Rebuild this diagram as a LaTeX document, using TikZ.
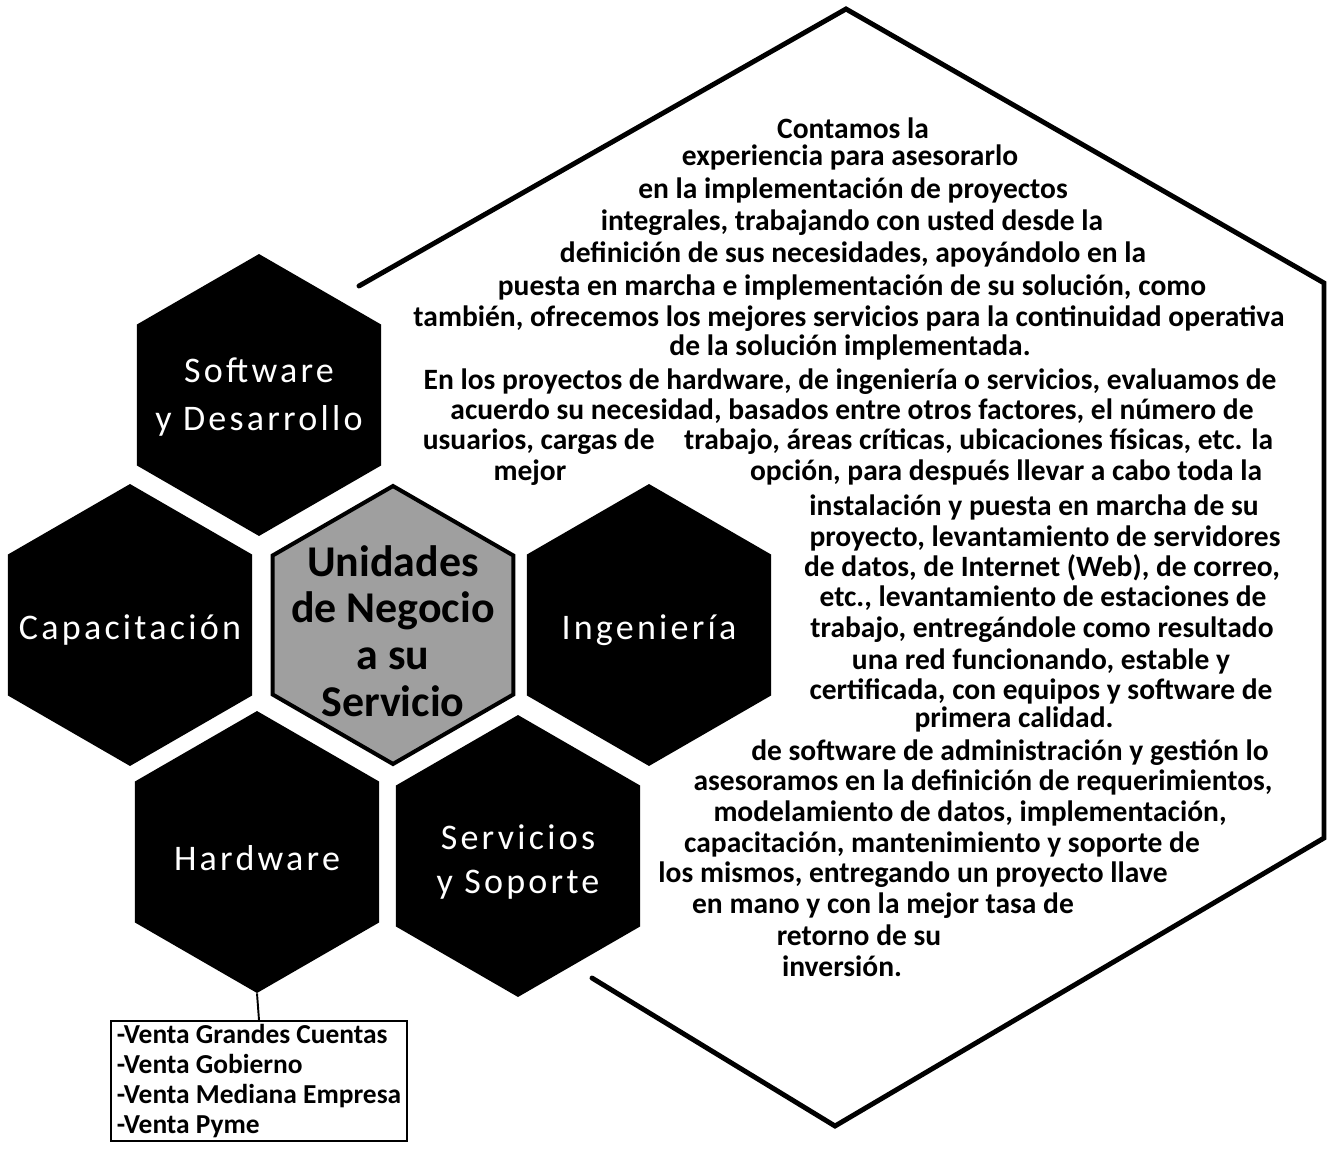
\documentclass[tikz,border=0pt]{standalone}
\usepackage{fontspec}
\setmainfont{Carlito}
\usetikzlibrary{shapes.geometric}
\newcommand{\hexfont}{\fontsize{20.5}{27}\selectfont\addfontfeature{LetterSpace=9}}
\newcommand{\servfont}{\fontsize{20.5}{25}\selectfont\addfontfeature{LetterSpace=9}}
\newcommand{\corefont}{\fontsize{25}{26.5}\selectfont\bfseries}
\newcommand{\bodyfont}{\fontsize{16.8}{17}\selectfont\bfseries}
\newcommand{\listfont}{\fontsize{15.6}{17}\selectfont\bfseries}
\tikzset{
  hexa/.style={regular polygon, regular polygon sides=6, shape border rotate=30, minimum size=5.64cm, inner sep=0pt, fill=black},
  core/.style={hexa, fill=gray!75, draw=black, line width=2.3pt, minimum size=5.56cm},
  hexlabel/.style={text=white, align=center, inner sep=0pt, font=\hexfont},
  linea/.style={anchor=base, inner sep=0pt, font=\bodyfont},
  lista/.style={draw, line width=1.1pt, align=left, inner sep=2pt, minimum width=5.92cm, font=\listfont},
  marco/.style={draw, line width=2.8pt, line join=miter, line cap=round}
  }

\begin{document}
\begin{tikzpicture}[x=0.02cm, y=-0.02cm]
	\useasboundingbox (0,0) rectangle (1327,1151);
	% Frame
	\draw [marco] (359,286) -- (846,9) -- (1324,283) -- (1324,838) -- (835,1126) -- (592,978);

	% Nodes
	\node[core] (core) at (393,625) {};
	\node[hexa] (soft) at (259,395) {};
	\node[hexa] (capa) at (130,625) {};
	\node[hexa] (inge) at (649,625) {};
	\node[hexa] (hard) at (257,852) {};
	\node[hexa] (serv) at (518,856) {};
	\node[font=\corefont, align=center, inner sep=0pt] (core-t) at (393,631) {Unidades\\de Negocio\\a su\\Servicio};
	\node[hexlabel] (soft-t) at (259,397) {Software\\y Desarrollo};
	\node[hexlabel] (capa-t) at (130,630) {Capacitación};
	\node[hexlabel] (inge-t) at (649,630) {Ingeniería};
	\node[hexlabel] (hard-t) at (257,858) {Hardware};
	\node[hexlabel, font=\servfont] (serv-t) at (518,862) {Servicios\\y Soporte};
	\node[lista, anchor=north] (venta) at (259,1020) {-Venta Grandes Cuentas\\-Venta Gobierno\\-Venta Mediana Empresa\\-Venta Pyme};

	% Text
	\foreach \x/\y/\t [count=\i] in {
	  853/139/{Contamos la},
	  850/166/{experiencia para asesorarlo},
	  853/199/{en la implementación de proyectos},
	  852/231/{integrales, trabajando con usted desde la},
	  853/263/{definición de sus necesidades, apoyándolo en la},
	  852/296/{puesta en marcha e implementación de su solución, como},
	  849/327/{también, ofrecemos los mejores servicios para la continuidad operativa},
	  850/356/{de la solución implementada.},
	  850/390/{En los proyectos de hardware, de ingeniería o servicios, evaluamos de},
	  852/420/{acuerdo su necesidad, basados entre otros factores, el número de},
	  848/450/{usuarios, cargas de\quad trabajo, áreas críticas, ubicaciones físicas, etc. la},
	  530/480/{mejor},
	  1006/480/{opción, para después llevar a cabo toda la},
	  1034/515/{instalación y puesta en marcha de su},
	  1045/546/{proyecto, levantamiento de servidores},
	  1042/576/{de datos, de Internet (Web), de correo,},
	  1043/606/{etc., levantamiento de estaciones de},
	  1042/637/{trabajo, entregándole como resultado},
	  1041/669/{una red funcionando, estable y},
	  1041/699/{certificada, con equipos y software de},
	  1014/727/{primera calidad.},
	  1010/760/{de software de administración y gestión lo},
	  983/790/{asesoramos en la definición de requerimientos,},
	  970/821/{modelamiento de datos, implementación,},
	  942/852/{capacitación, mantenimiento y soporte de},
	  913/882/{los mismos, entregando un proyecto llave},
	  883/913/{en mano y con la mejor tasa de},
	  859/945/{retorno de su},
	  842/976/{inversión.}}
	  \node[linea] (t\i) at (\x,\y) {\t};

	% Arrow
	\draw [line width=1.1pt] (hard.south) -- (venta.north);
\end{tikzpicture}
\end{document}
